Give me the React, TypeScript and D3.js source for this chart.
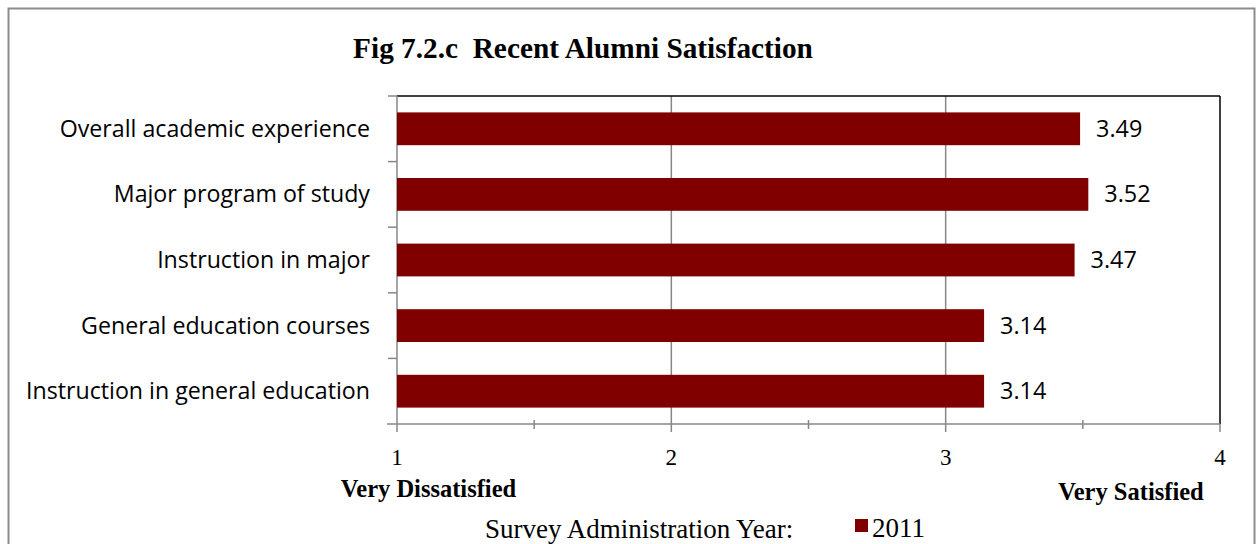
import React from "react";
import * as d3 from "d3";

const categories = [
  "Overall academic experience",
  "Major program of study",
  "Instruction in major",
  "General education courses",
  "Instruction in general education",
];
const values2011 = [3.49, 3.52, 3.47, 3.14, 3.14];
const xTicks = [1, 2, 3, 4];
const minorTicks = [1.5, 2.5, 3.5];
const seriesName = "2011";

export default function App() {
  const W = 1258, H = 544;
  const left = 397, right = 1220, top = 96, bottom = 424;
  const x = d3.scaleLinear().domain([1, 4]).range([left, right]);
  const y = d3.scaleBand().domain(categories).range([top, bottom]).paddingInner(0.5).paddingOuter(0.25);
  const yb = d3.scaleBand().domain(categories).range([top, bottom]);
  const barColor = "#800000";
  const gray = "#878787";
  const labelFont = "'Open Sans', 'Noto Sans', sans-serif";
  const serif = "'Liberation Serif', 'Times New Roman', serif";
  return (
    <svg width={W} height={H} style={{ position: "absolute", left: 0, top: 0 }}>
      <rect x={0} y={0} width={W} height={H} fill="#fff" />
      <rect x={8.5} y={8.5} width={1246} height={560} fill="none" stroke="#8c8c8c" strokeWidth={2} />
      <text x={583} y={58} textAnchor="middle" fontFamily={serif} fontWeight="bold" fontSize={29.3} style={{ whiteSpace: "pre" }}>
        {"Fig 7.2.c  Recent Alumni Satisfaction"}
      </text>
      {xTicks.slice(1, -1).map((t) => (
        <line key={t} x1={x(t)} x2={x(t)} y1={top} y2={bottom} stroke={gray} strokeWidth={1.5} />
      ))}
      <line x1={left} x2={right} y1={top} y2={top} stroke="#000" strokeWidth={1.5} />
      <line x1={right} x2={right} y1={top} y2={bottom} stroke="#000" strokeWidth={1.5} />
      <line x1={left} x2={left} y1={top} y2={bottom} stroke={gray} strokeWidth={1.5} />
      {categories.map((c) => (
        <line key={c} x1={left - 9} x2={left} y1={yb(c)!} y2={yb(c)!} stroke={gray} strokeWidth={1.5} />
      ))}
      <line x1={left - 10} x2={right} y1={bottom} y2={bottom} stroke={gray} strokeWidth={1.5} />
      {xTicks.map((t) => (
        <line key={t} x1={x(t)} x2={x(t)} y1={bottom} y2={bottom + 8} stroke={gray} strokeWidth={1.5} />
      ))}
      {minorTicks.map((t) => (
        <line key={t} x1={x(t)} x2={x(t)} y1={bottom - 4} y2={bottom + 5} stroke={gray} strokeWidth={1.5} />
      ))}
      {xTicks.map((t) => (
        <text key={t} x={x(t)} y={465} textAnchor="middle" fontFamily={serif} fontSize={23}>
          {t}
        </text>
      ))}
      {categories.map((c, i) => (
        <g key={c}>
          <rect x={x(1)} y={y(c)!} width={x(values2011[i]) - x(1)} height={y.bandwidth()} fill={barColor} />
          <text x={x(values2011[i]) + 16} y={y(c)! + y.bandwidth() / 2 + 8} fontFamily={labelFont} fontSize={23.4}>
            {values2011[i].toFixed(2)}
          </text>
          <text x={370} y={y(c)! + y.bandwidth() / 2 + 8} textAnchor="end" fontFamily={labelFont} fontSize={23.2}>
            {c}
          </text>
        </g>
      ))}
      <text x={428.5} y={497} textAnchor="middle" fontFamily={serif} fontWeight="bold" fontSize={24.5}>
        Very Dissatisfied
      </text>
      <text x={1131} y={500} textAnchor="middle" fontFamily={serif} fontWeight="bold" fontSize={24.5}>
        Very Satisfied
      </text>
      <text x={485} y={538} fontFamily={serif} fontSize={27}>
        Survey Administration Year:
      </text>
      <rect x={855} y={519} width={13} height={13} fill={barColor} />
      <text x={872} y={537} fontFamily={serif} fontSize={27}>
        {seriesName}
      </text>
    </svg>
  );
}
